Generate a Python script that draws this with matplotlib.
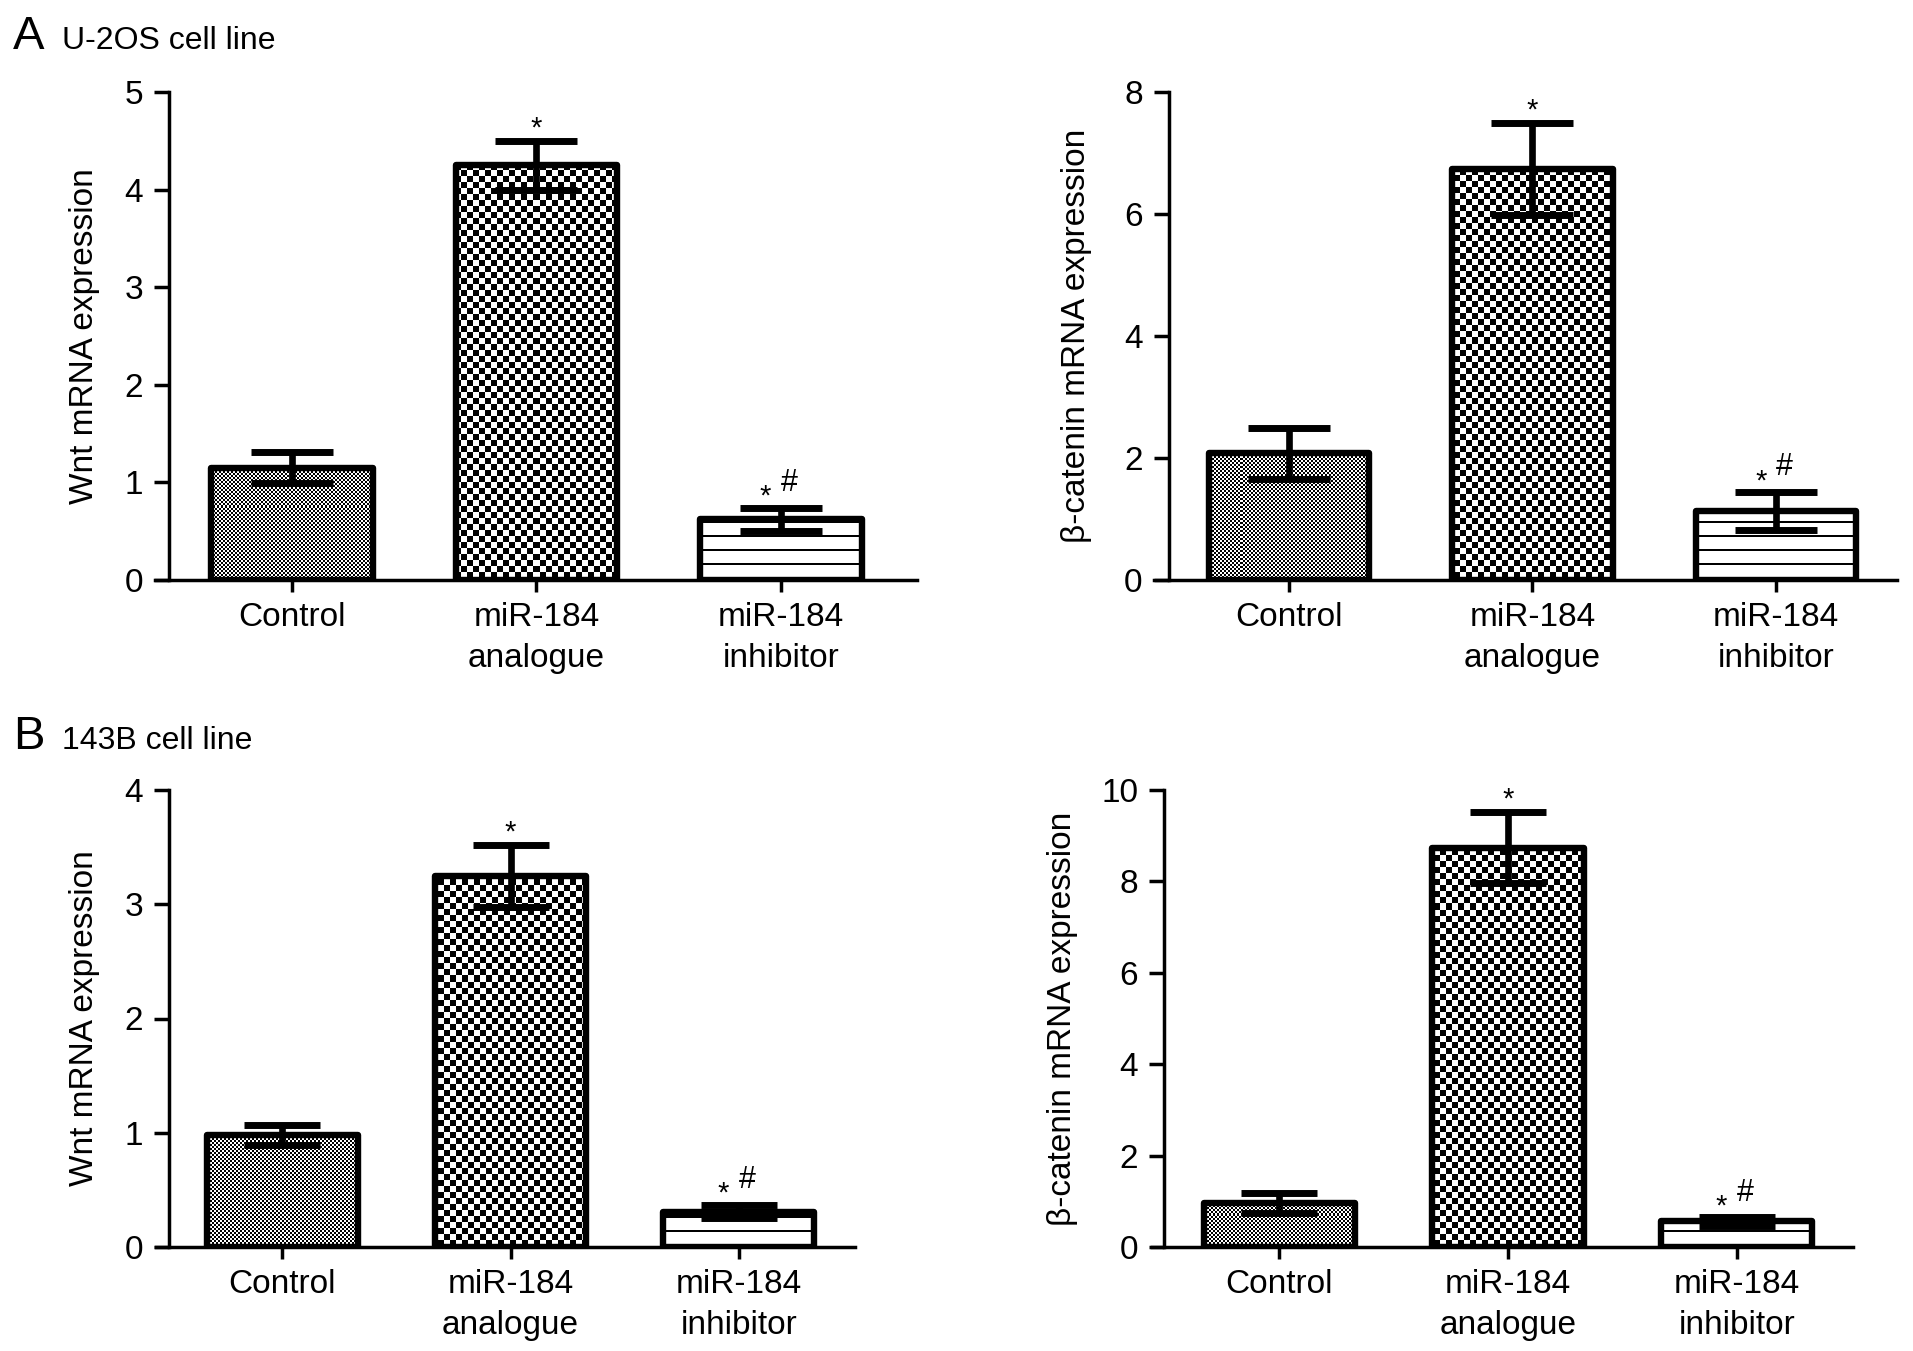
import numpy as np
import matplotlib
matplotlib.use('Agg')
import matplotlib.pyplot as plt

plt.rcParams['font.family'] = ['Liberation Sans', 'DejaVu Sans']

groups = ['Control', 'miR-184\nanalogue', 'miR-184\ninhibitor']
marks = ['', '*', '*#']

wnt_u2os = [1.15, 4.25, 0.62]
wnt_u2os_err = [0.16, 0.25, 0.12]
bcat_u2os = [2.08, 6.74, 1.13]
bcat_u2os_err = [0.42, 0.76, 0.31]
wnt_143b = [0.98, 3.25, 0.31]
wnt_143b_err = [0.09, 0.27, 0.06]
bcat_143b = [0.97, 8.74, 0.56]
bcat_143b_err = [0.22, 0.78, 0.09]

W, H = 1913, 1351
fig = plt.figure(figsize=(W / 100, H / 100), dpi=100)


def texture(kind, h, w):
    yy, xx = np.mgrid[0:h, 0:w]
    if kind == 'fine':
        return ((xx // 2 + yy // 2) % 2).astype(float)
    if kind == 'check':
        return ((xx // 6 + yy // 6) % 2).astype(float)
    # horizontal lines, counted from the bottom
    img = np.ones((h, w))
    img[((h - 1 - yy) - 15) % 14 < 2] = 0.0
    return img


def panel(vals, errs, ylabel, ymax, ystep, box, xlim, spine_x, lab_x, cap):
    left, right, top, bottom = box
    ax = fig.add_axes([left / W, (H - bottom) / H, (right - left) / W, (bottom - top) / H])
    x = np.arange(len(vals))
    wpx, hpx = right - left, bottom - top

    faces = ax.bar(x, vals, width=0.66, color='white', edgecolor='none', zorder=2)
    for p, kind in zip(faces.patches, ['fine', 'check', 'lines']):
        im = ax.imshow(texture(kind, hpx, wpx), cmap='gray', vmin=0, vmax=1,
                       extent=(0, 1, 0, 1), transform=ax.transAxes,
                       interpolation='nearest', aspect='auto', zorder=2.5)
        im.set_clip_path(p)
    edges = ax.bar(x, vals, width=0.66, facecolor='none', edgecolor='black',
                   linewidth=4.6, zorder=3)
    for p in edges.patches:
        p.set_joinstyle('round')
    ax.errorbar(x, vals, yerr=errs, fmt='none', ecolor='black', elinewidth=4.8,
                capsize=cap, capthick=5.0, zorder=4)

    for xi, v, e, m in zip(x, vals, errs, marks):
        if m == '*':
            ax.annotate('*', (xi, v + e), xytext=(0, 3), textcoords='offset points',
                        ha='center', va='baseline', fontsize=21, clip_on=False)
        elif m == '*#':
            ax.annotate('*', (xi, v + e), xytext=(-11, 2), textcoords='offset points',
                        ha='center', va='baseline', fontsize=21)
            ax.annotate('#', (xi, v + e), xytext=(6, 12), textcoords='offset points',
                        ha='center', va='baseline', fontsize=22)

    ax.set_xlim(*xlim)
    ax.set_ylim(0, ymax)
    ax.set_yticks(np.arange(0, ymax + ystep / 2, ystep))
    ax.set_xticks(x)
    ax.set_xticklabels(groups, fontsize=24, linespacing=1.45)
    ax.tick_params(axis='y', labelsize=24, length=10.8, width=2.5, pad=8)
    ax.tick_params(axis='x', length=8.6, width=2.5, pad=7)
    for s in ['top', 'right']:
        ax.spines[s].set_visible(False)
    ax.spines['left'].set_position(('data', spine_x))
    ax.spines['left'].set_linewidth(2.5)
    ax.spines['bottom'].set_linewidth(2.5)
    ax.set_ylabel(ylabel, fontsize=24)
    ax.yaxis.set_label_coords((lab_x - left) / wpx, 0.5)
    return ax


panel(wnt_u2os, wnt_u2os_err, 'Wnt mRNA expression', 5, 1,
      (155, 917, 92, 580), (-0.561, 2.557), -0.504, 100, 29.5)
panel(bcat_u2os, bcat_u2os_err, '\u03b2-catenin mRNA expression', 8, 2,
      (1154, 1897, 92, 580), (-0.554, 2.497), -0.493, 1092, 29.5)
panel(wnt_143b, wnt_143b_err, 'Wnt mRNA expression', 4, 1,
      (156, 855, 790, 1247), (-0.553, 2.509), -0.496, 100, 27.5)
panel(bcat_143b, bcat_143b_err, '\u03b2-catenin mRNA expression', 10, 2,
      (1152, 1853, 790, 1247), (-0.555, 2.507), -0.502, 1078, 27.5)

fig.text(13 / W, 1 - 49 / H, 'A', fontsize=34, va='baseline')
fig.text(62 / W, 1 - 49 / H, 'U-2OS cell line', fontsize=23, va='baseline')
fig.text(13 / W, 1 - 749 / H, 'B', fontsize=34, va='baseline')
fig.text(62 / W, 1 - 749 / H, '143B cell line', fontsize=23, va='baseline')

fig.savefig('out.png', dpi=100, facecolor='white')
